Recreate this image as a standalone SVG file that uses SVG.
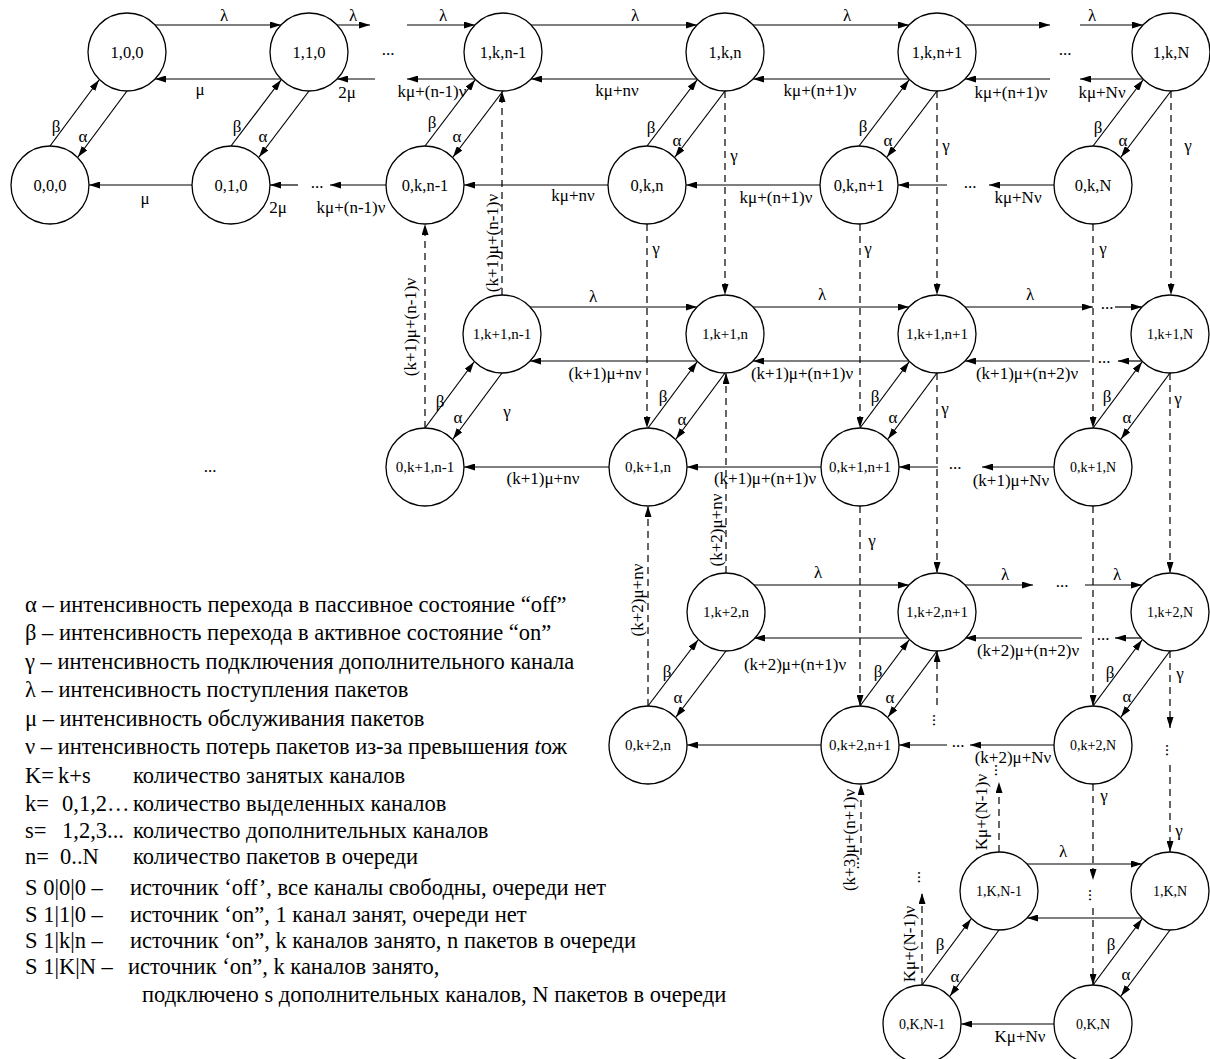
<svg xmlns="http://www.w3.org/2000/svg" width="1210" height="1059" viewBox="0 0 1210 1059">
<style>
.bg{fill:#fff}
.n circle{fill:#fff;stroke:#000;stroke-width:1.3}
.n text{font-family:"Liberation Serif","Times New Roman",serif;font-size:16.5px;text-anchor:middle;fill:#000}
.n text.s{font-size:15px}
.n text.t{font-size:14px}
.e{stroke:#000;stroke-width:1.2;fill:none;marker-end:url(#a)}
.d{stroke-dasharray:7,5}
.lb{font-family:"Liberation Serif","Times New Roman",serif;font-size:17px;text-anchor:middle;fill:#000}
.lg{font-family:"Liberation Serif","Times New Roman",serif;font-size:22.5px;fill:#000}
</style>
<defs>
<marker id="a" viewBox="0 0 11 7" refX="11" refY="3.5" markerWidth="11" markerHeight="7" markerUnits="userSpaceOnUse" orient="auto"><path d="M0,0 L11,3.5 L0,7 z" fill="#000"/></marker>
</defs>
<rect class="bg" x="0" y="0" width="1210" height="1059"/>

<g id="connectors">
<!-- row A horizontals -->
<path class="e" d="M155,25 L281,25"/>
<path class="e" d="M337,25 L370,25"/>
<path class="e" d="M281,79 L155,79"/>
<path class="e" d="M375,79 L337,79"/>
<path class="e" d="M407,25 L475,25"/>
<path class="e" d="M475,79 L407,79"/>
<path class="e" d="M531,25 L697,25"/>
<path class="e" d="M697,79 L531,79"/>
<path class="e" d="M753,25 L909,25"/>
<path class="e" d="M909,79 L753,79"/>
<path class="e" d="M965,25 L1050,25"/>
<path class="e" d="M1080,25 L1143,25"/>
<path class="e" d="M1050,79 L965,79"/>
<path class="e" d="M1143,79 L1080,79"/>
<!-- row B -->
<path class="e" d="M192,185 L89,185"/>
<path class="e" d="M298,185 L270,185"/>
<path class="e" d="M386,185 L330,185"/>
<path class="e" d="M608,185 L464,185"/>
<path class="e" d="M820,185 L686,185"/>
<path class="e" d="M947,185 L898,185"/>
<path class="e" d="M1054,185 L989,185"/>
<!-- row C -->
<path class="e" d="M530,307 L697,307"/>
<path class="e" d="M697,361 L530,361"/>
<path class="e" d="M753,307 L909,307"/>
<path class="e" d="M909,361 L753,361"/>
<path class="e" d="M965,307 L1093,307"/>
<path class="e" d="M1115,307 L1142,307"/>
<path class="e" d="M1142,361 L1118,361"/>
<path class="e" d="M1090,361 L965,361"/>
<!-- row D -->
<path class="e" d="M609,467 L464,467"/>
<path class="e" d="M821,467 L687,467"/>
<path class="e" d="M938,467 L899,467"/>
<path class="e" d="M1054,467 L982,467"/>
<!-- row E -->
<path class="e" d="M754,585 L909,585"/>
<path class="e" d="M909,638 L754,638"/>
<path class="e" d="M965,585 L1033,585"/>
<path class="e" d="M1085,585 L1142,585"/>
<path class="e" d="M1082,638 L965,638"/>
<path class="e" d="M1142,638 L1115,638"/>
<!-- row F -->
<path class="e" d="M821,745 L687,745"/>
<path class="e" d="M947,745 L899,745"/>
<path class="e" d="M1054,745 L970,745"/>
<!-- row G / H -->
<path class="e" d="M1027,864 L1142,864"/>
<path class="e" d="M1142,918 L1027,918"/>
<path class="e" d="M1054,1024 L961,1024"/>

<!-- diagonals beta (up) / alpha (down) -->
<path class="e" d="M50,146 L99,80"/><path class="e" d="M127,91 L78,157"/>
<path class="e" d="M231,146 L281,80"/><path class="e" d="M309,91 L259,157"/>
<path class="e" d="M425,146 L475,80"/><path class="e" d="M503,91 L453,157"/>
<path class="e" d="M647,146 L697,80"/><path class="e" d="M725,91 L675,157"/>
<path class="e" d="M859,146 L909,80"/><path class="e" d="M937,91 L887,157"/>
<path class="e" d="M1093,146 L1143,80"/><path class="e" d="M1171,91 L1121,157"/>
<path class="e" d="M425,428 L474,362"/><path class="e" d="M502,373 L453,439"/>
<path class="e" d="M648,428 L697,362"/><path class="e" d="M725,373 L676,439"/>
<path class="e" d="M860,428 L909,362"/><path class="e" d="M937,373 L888,439"/>
<path class="e" d="M1093,428 L1142,362"/><path class="e" d="M1170,373 L1121,439"/>
<path class="e" d="M648,706 L698,640"/><path class="e" d="M726,651 L676,717"/>
<path class="e" d="M860,706 L909,640"/><path class="e" d="M937,651 L888,717"/>
<path class="e" d="M1093,706 L1142,640"/><path class="e" d="M1170,651 L1121,717"/>
<path class="e" d="M922,985 L971,919"/><path class="e" d="M999,930 L950,996"/>
<path class="e" d="M1093,985 L1142,919"/><path class="e" d="M1170,930 L1121,996"/>

<!-- dashed gamma (down) -->
<path class="e d" d="M725,91 L725,295"/>
<path class="e d" d="M647,224 L647,428"/>
<path class="e d" d="M937,91 L937,295"/>
<path class="e d" d="M860,224 L860,428"/>
<path class="e d" d="M1171,91 L1171,295"/>
<path class="e d" d="M1093,224 L1093,428"/>
<path class="e d" d="M937,373 L937,573"/>
<path class="e d" d="M1170,373 L1170,573"/>
<path class="e d" d="M860,506 L860,706"/>
<path class="e d" d="M1093,506 L1093,706"/>
<path class="e d" d="M1170,651 L1170,728"/>
<path class="e d" d="M1170,765 L1170,852"/>
<path class="e d" d="M1093,784 L1093,880"/>
<path class="e d" d="M1093,908 L1093,985"/>
<!-- dashed up -->
<path class="e d" d="M425,428 L425,224"/>
<path class="e d" d="M502,295 L502,91"/>
<path class="e d" d="M648,706 L648,506"/>
<path class="e d" d="M726,573 L726,373"/>
<path class="e d" d="M861,855 L861,784"/>
<path class="e d" d="M937,705 L937,651"/>
<path class="e d" d="M999,852 L999,782"/>
<path class="e d" d="M922,985 L922,893"/>

<!-- edge labels -->
<g class="lb">
<text x="224" y="21">λ</text><text x="353" y="21">λ</text>
<text x="200" y="95">μ</text><text x="347" y="98">2μ</text>
<text x="443" y="21">λ</text><text x="432" y="97">kμ+(n-1)ν</text>
<text x="635" y="21">λ</text><text x="617" y="96">kμ+nν</text>
<text x="847" y="21">λ</text><text x="820" y="96">kμ+(n+1)ν</text>
<text x="1092" y="21">λ</text><text x="1011" y="98">kμ+(n+1)ν</text><text x="1102" y="98">kμ+Nν</text>
<text x="145" y="204">μ</text><text x="278" y="213">2μ</text>
<text x="351" y="213">kμ+(n-1)ν</text>
<text x="573" y="201">kμ+nν</text>
<text x="776" y="203">kμ+(n+1)ν</text>
<text x="1018" y="203">kμ+Nν</text>
<text x="593" y="302">λ</text><text x="605" y="379">(k+1)μ+nν</text>
<text x="822" y="300">λ</text><text x="802" y="379">(k+1)μ+(n+1)ν</text>
<text x="1030" y="300">λ</text><text x="1027" y="379">(k+1)μ+(n+2)ν</text>
<text x="543" y="484">(k+1)μ+nν</text>
<text x="765" y="484">(k+1)μ+(n+1)ν</text>
<text x="1011" y="486">(k+1)μ+Nν</text>
<text x="818" y="578">λ</text><text x="795" y="670">(k+2)μ+(n+1)ν</text>
<text x="1005" y="580">λ</text><text x="1117" y="580">λ</text>
<text x="1028" y="656">(k+2)μ+(n+2)ν</text>
<text x="1013" y="763">(k+2)μ+Nν</text>
<text x="1063" y="857">λ</text>
<text x="1020" y="1042">Kμ+Nν</text>
<!-- beta / alpha labels -->
<text x="56" y="132">β</text><text x="83" y="142">α</text>
<text x="237" y="132">β</text><text x="263" y="142">α</text>
<text x="432" y="128">β</text><text x="457" y="142">α</text>
<text x="651" y="133">β</text><text x="677" y="146">α</text>
<text x="863" y="132">β</text><text x="888" y="146">α</text>
<text x="1098" y="133">β</text><text x="1123" y="146">α</text>
<text x="440" y="407">β</text><text x="458" y="423">α</text>
<text x="663" y="402">β</text><text x="682" y="425">α</text>
<text x="875" y="402">β</text><text x="893" y="423">α</text>
<text x="1107" y="402">β</text><text x="1127" y="423">α</text>
<text x="667" y="677">β</text><text x="678" y="703">α</text>
<text x="878" y="677">β</text><text x="890" y="703">α</text>
<text x="1110" y="678">β</text><text x="1127" y="702">α</text>
<text x="940" y="950">β</text><text x="955" y="982">α</text>
<text x="1111" y="950">β</text><text x="1126" y="980">α</text>
<!-- gamma labels -->
<text x="734" y="161">γ</text><text x="656" y="254">γ</text>
<text x="946" y="151">γ</text><text x="868" y="254">γ</text>
<text x="1188" y="151">γ</text><text x="1103" y="254">γ</text>
<text x="945" y="414">γ</text><text x="1178" y="404">γ</text>
<text x="872" y="546">γ</text><text x="507" y="417">γ</text>
<text x="1180" y="679">γ</text><text x="1179" y="836">γ</text>
<text x="1104" y="801">γ</text>
<!-- dots -->
<text x="388" y="55">...</text><text x="1065" y="55">...</text>
<text x="317" y="188">...</text><text x="970" y="188">...</text>
<text x="1107" y="309">...</text><text x="1104" y="363">...</text>
<text x="955" y="469">...</text>
<text x="1062" y="587">...</text><text x="1103" y="640">...</text>
<text x="958" y="747">...</text>
<text x="210" y="472">...</text>
<text transform="translate(1166,750) rotate(90)">...</text>
<text transform="translate(1089,895) rotate(90)">...</text>
<text transform="translate(857,863) rotate(90)">...</text>
<text transform="translate(933,720) rotate(90)">...</text>
<text transform="translate(995,770) rotate(90)">...</text>
<text transform="translate(918,877) rotate(90)">...</text>
<!-- vertical labels -->
<text transform="translate(416,327) rotate(-90)">(k+1)μ+(n-1)ν</text>
<text transform="translate(498,243) rotate(-90)">(k+1)μ+(n-1)ν</text>
<text transform="translate(643,600) rotate(-90)">(k+2)μ+nν</text>
<text transform="translate(722,530) rotate(-90)">(k+2)μ+nν</text>
<text transform="translate(855,840) rotate(-90)">(k+3)μ+(n+1)ν</text>
<text transform="translate(987,812) rotate(-90)">Kμ+(N-1)ν</text>
<text transform="translate(915,944) rotate(-90)">Kμ+(N-1)ν</text>
</g>
</g>

<g id="nodes">
<g id="s100" class="n"><circle cx="127" cy="52" r="39"/><text x="127" y="58">1,0,0</text></g>
<g id="s110" class="n"><circle cx="309" cy="52" r="39"/><text x="309" y="58">1,1,0</text></g>
<g id="s1kn-1" class="n"><circle cx="503" cy="52" r="39"/><text x="503" y="58">1,k,n-1</text></g>
<g id="s1kn" class="n"><circle cx="725" cy="52" r="39"/><text x="725" y="58">1,k,n</text></g>
<g id="s1kn+1" class="n"><circle cx="937" cy="52" r="39"/><text x="937" y="58">1,k,n+1</text></g>
<g id="s1kN" class="n"><circle cx="1171" cy="52" r="39"/><text x="1171" y="58">1,k,N</text></g>
<g id="s000" class="n"><circle cx="50" cy="185" r="39"/><text x="50" y="191">0,0,0</text></g>
<g id="s010" class="n"><circle cx="231" cy="185" r="39"/><text x="231" y="191">0,1,0</text></g>
<g id="s0kn-1" class="n"><circle cx="425" cy="185" r="39"/><text x="425" y="191">0,k,n-1</text></g>
<g id="s0kn" class="n"><circle cx="647" cy="185" r="39"/><text x="647" y="191">0,k,n</text></g>
<g id="s0kn+1" class="n"><circle cx="859" cy="185" r="39"/><text x="859" y="191">0,k,n+1</text></g>
<g id="s0kN" class="n"><circle cx="1093" cy="185" r="39"/><text x="1093" y="191">0,k,N</text></g>
<g id="s1k1n-1" class="n"><circle cx="502" cy="334" r="39"/><text class="s" x="502" y="339">1,k+1,n-1</text></g>
<g id="s1k1n" class="n"><circle cx="725" cy="334" r="39"/><text class="s" x="725" y="339">1,k+1,n</text></g>
<g id="s1k1n+1" class="n"><circle cx="937" cy="334" r="39"/><text class="s" x="937" y="339">1,k+1,n+1</text></g>
<g id="s1k1N" class="n"><circle cx="1170" cy="334" r="39"/><text class="t" x="1170" y="339">1,k+1,N</text></g>
<g id="s0k1n-1" class="n"><circle cx="425" cy="467" r="39"/><text class="s" x="425" y="472">0,k+1,n-1</text></g>
<g id="s0k1n" class="n"><circle cx="648" cy="467" r="39"/><text class="s" x="648" y="472">0,k+1,n</text></g>
<g id="s0k1n+1" class="n"><circle cx="860" cy="467" r="39"/><text class="s" x="860" y="472">0,k+1,n+1</text></g>
<g id="s0k1N" class="n"><circle cx="1093" cy="467" r="39"/><text class="t" x="1093" y="472">0,k+1,N</text></g>
<g id="s1k2n" class="n"><circle cx="726" cy="612" r="39"/><text class="s" x="726" y="617">1,k+2,n</text></g>
<g id="s1k2n+1" class="n"><circle cx="937" cy="612" r="39"/><text class="s" x="937" y="617">1,k+2,n+1</text></g>
<g id="s1k2N" class="n"><circle cx="1170" cy="612" r="39"/><text class="t" x="1170" y="617">1,k+2,N</text></g>
<g id="s0k2n" class="n"><circle cx="648" cy="745" r="39"/><text class="s" x="648" y="750">0,k+2,n</text></g>
<g id="s0k2n+1" class="n"><circle cx="860" cy="745" r="39"/><text class="s" x="860" y="750">0,k+2,n+1</text></g>
<g id="s0k2N" class="n"><circle cx="1093" cy="745" r="39"/><text class="t" x="1093" y="750">0,k+2,N</text></g>
<g id="s1KN-1" class="n"><circle cx="999" cy="891" r="39"/><text class="t" x="999" y="896">1,K,N-1</text></g>
<g id="s1KN" class="n"><circle cx="1170" cy="891" r="39"/><text class="t" x="1170" y="896">1,K,N</text></g>
<g id="s0KN-1" class="n"><circle cx="922" cy="1024" r="39"/><text class="t" x="922" y="1029">0,K,N-1</text></g>
<g id="s0KN" class="n"><circle cx="1093" cy="1024" r="39"/><text class="t" x="1093" y="1029">0,K,N</text></g>
</g>

<g id="legend" class="lg">
<text x="25" y="612">α – интенсивность перехода в пассивное состояние “off”</text>
<text x="25" y="640">β – интенсивность перехода в активное состояние “on”</text>
<text x="25" y="669">γ – интенсивность подключения дополнительного канала</text>
<text x="25" y="697">λ – интенсивность поступления пакетов</text>
<text x="25" y="726">μ – интенсивность обслуживания пакетов</text>
<text x="25" y="754">ν – интенсивность потерь пакетов из-за превышения <tspan font-style="italic">t</tspan>ож</text>
<text x="25" y="783">K=<tspan x="58">k+s</tspan><tspan x="133">количество занятых каналов</tspan></text>
<text x="25" y="811">k=<tspan x="62">0,1,2…</tspan><tspan x="133">количество выделенных каналов</tspan></text>
<text x="25" y="838">s=<tspan x="62">1,2,3...</tspan><tspan x="133">количество дополнительных каналов</tspan></text>
<text x="25" y="864">n=<tspan x="60">0..N</tspan><tspan x="133">количество пакетов в очереди</tspan></text>
<text x="25" y="895">S 0|0|0 –<tspan x="130">источник ‘off’, все каналы свободны, очереди нет</tspan></text>
<text x="25" y="922">S 1|1|0 –<tspan x="130">источник ‘on”, 1 канал занят, очереди нет</tspan></text>
<text x="25" y="948">S 1|k|n –<tspan x="130">источник ‘on”, k каналов занято, n пакетов в очереди</tspan></text>
<text x="25" y="974">S 1|K|N –<tspan x="128">источник ‘on”, k каналов занято,</tspan></text>
<text x="142" y="1002">подключено s дополнительных каналов, N пакетов в очереди</text>
</g>
</svg>
